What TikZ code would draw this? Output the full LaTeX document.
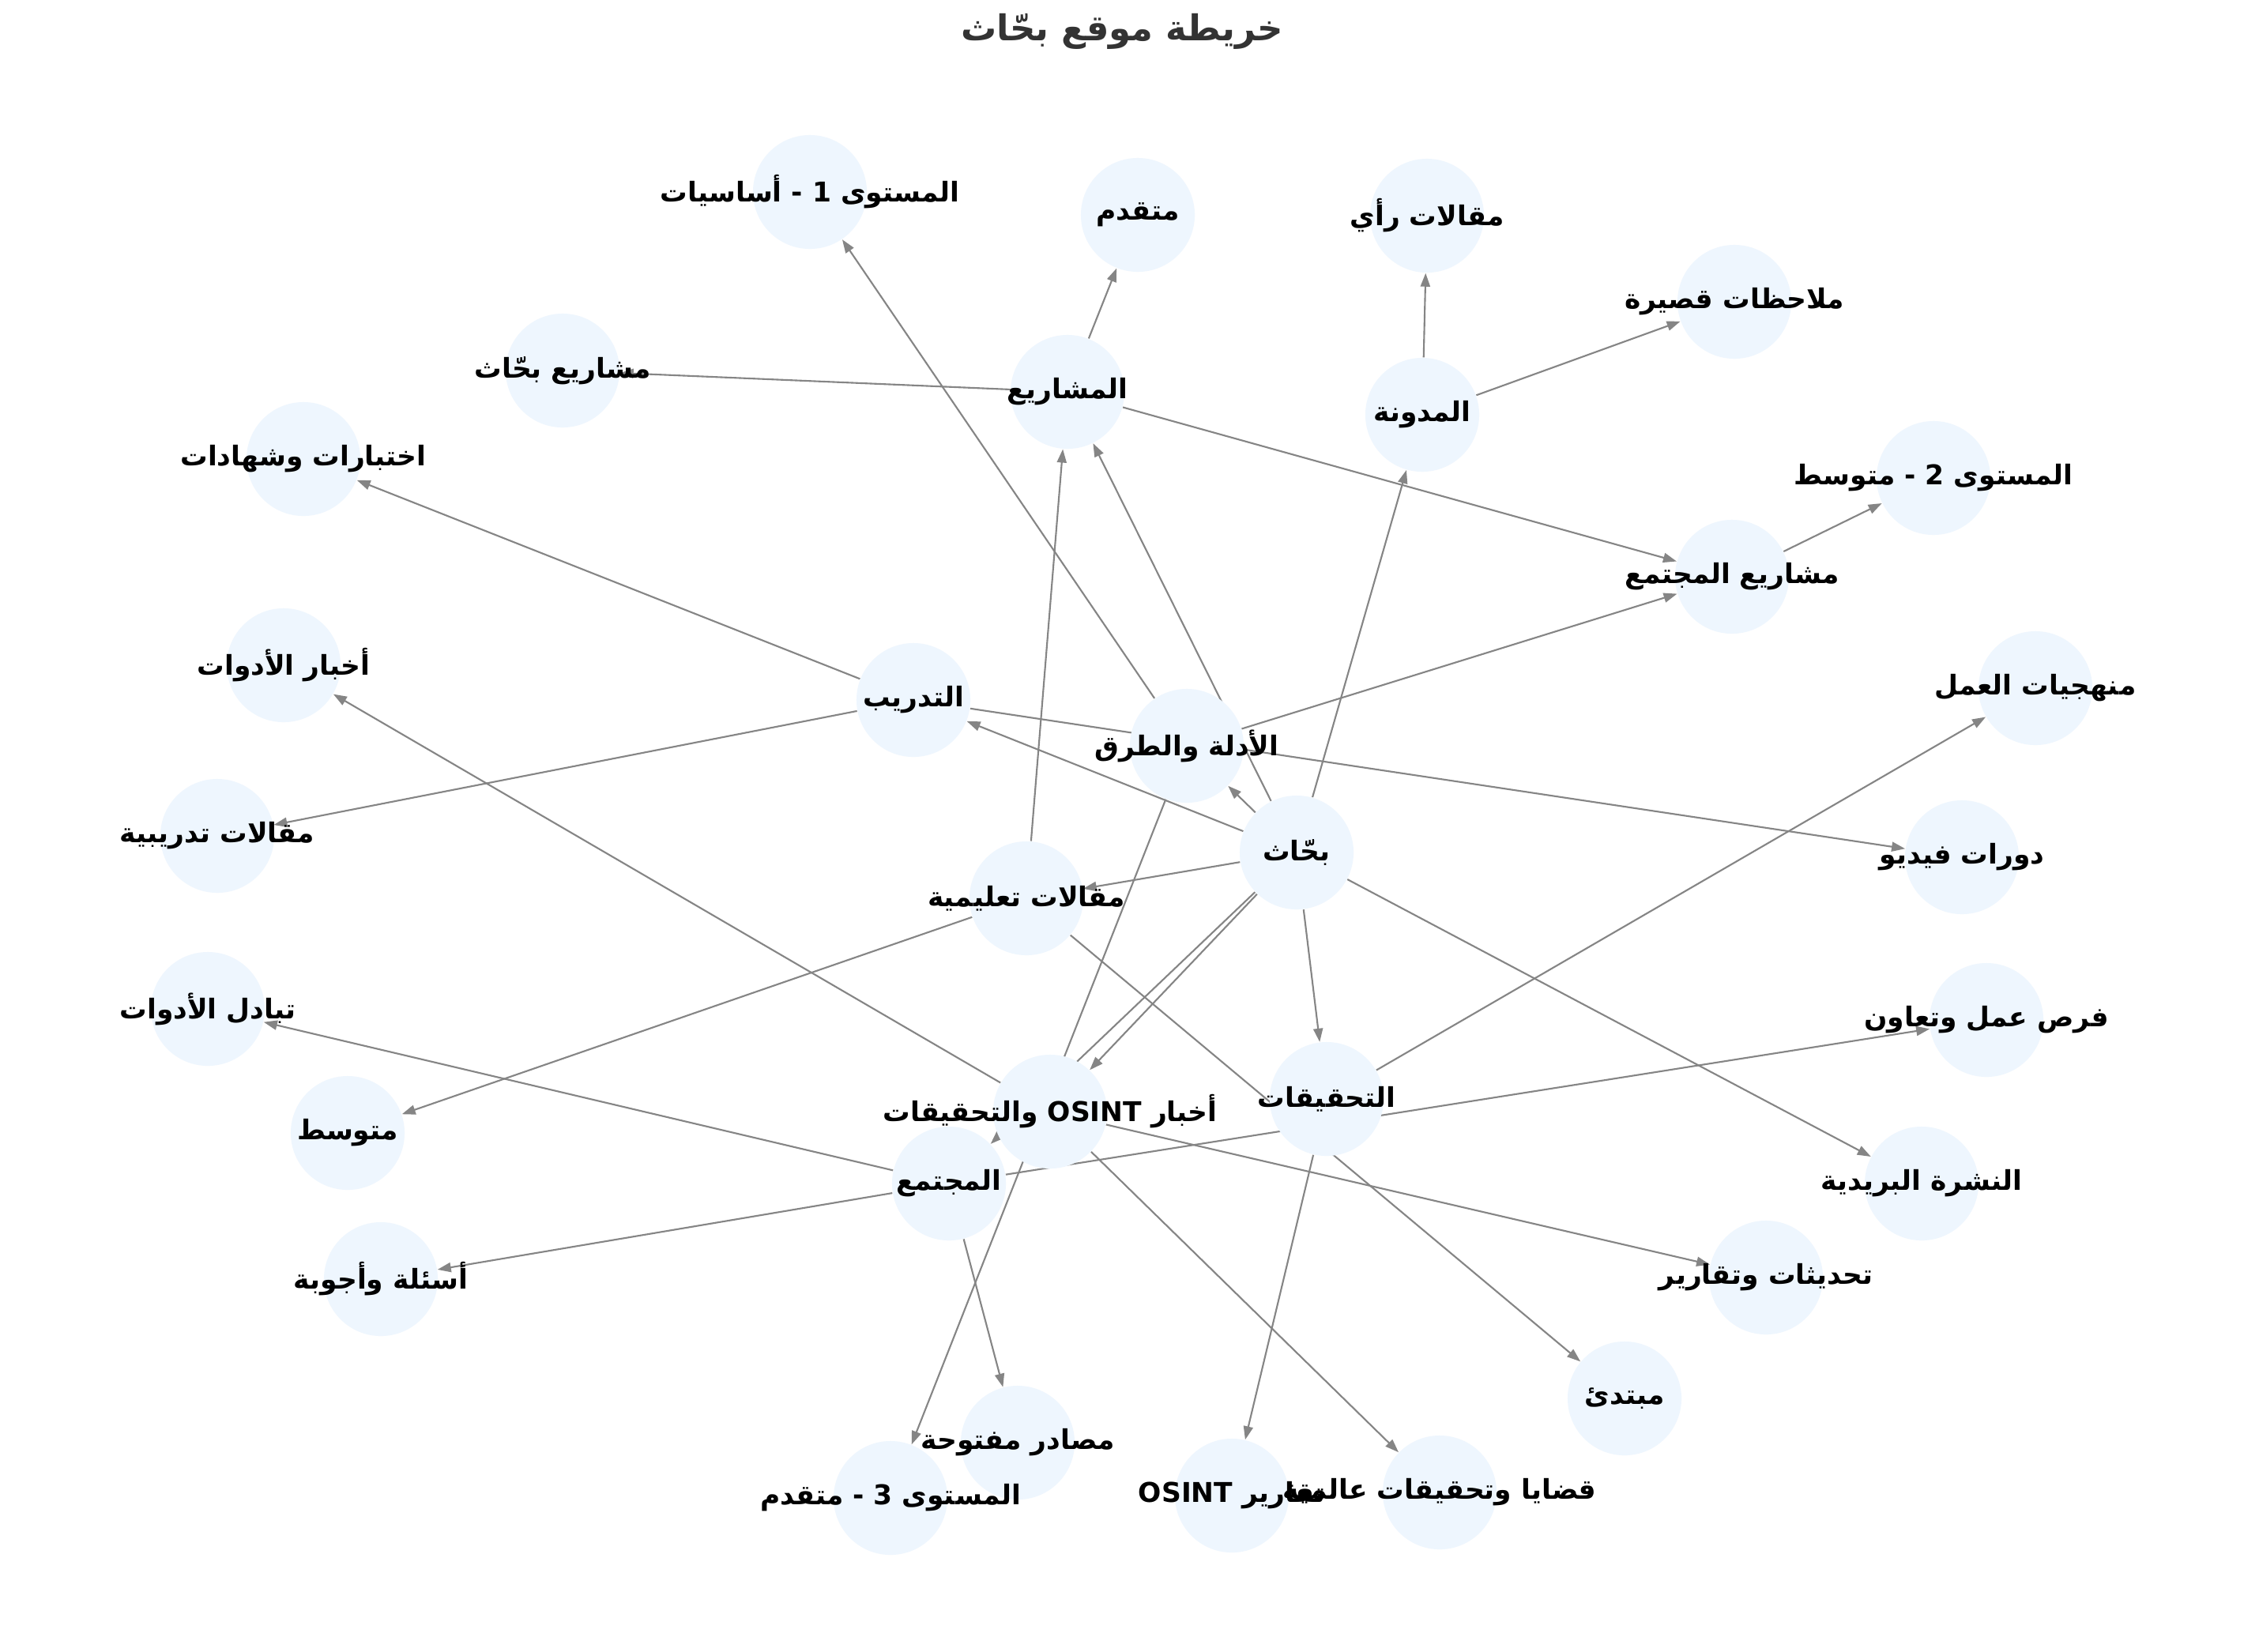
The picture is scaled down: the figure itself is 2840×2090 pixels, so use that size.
\documentclass[tikz,border=0pt]{standalone}
\usepackage{fontspec}
\newfontfamily\arabicfont[Script=Arabic]{DejaVu Sans}
\TeXXeTstate=1
\usetikzlibrary{arrows.meta}
\pgfdeclarelayer{bg}\pgfdeclarelayer{fg}
\pgfsetlayers{bg,main,fg}
\definecolor{nodefill}{HTML}{EEF6FE}
\definecolor{edgegray}{HTML}{858585}
\definecolor{titlegray}{HTML}{333333}
\newcommand{\artxt}[1]{\beginR #1\endR}
\begin{document}
\begin{tikzpicture}[x=0.01cm,y=-0.01cm,
  dot/.style={circle,fill=nodefill,minimum size=1.44cm,inner sep=0pt},
  lbl/.style={font=\arabicfont\bfseries\fontsize{9.8pt}{11pt}\selectfont,text=black,inner sep=0pt},
  ttl/.style={font=\arabicfont\bfseries\fontsize{12.8pt}{14pt}\selectfont,text=titlegray,inner sep=0pt},
  edge/.style={draw=edgegray,line width=0.6pt,-{Triangle[length=0.17cm,width=0.12cm]}}]
\begin{pgfonlayer}{bg}
\fill[white] (0,0) rectangle (2840,2090);
\end{pgfonlayer}
\useasboundingbox (0,0) rectangle (2840,2090);
% nodes
\node[dot] (root) at (1641,1079) {};
\node[dot] (guides) at (1502,944) {};
\node[dot] (train) at (1156,886) {};
\node[dot] (tut) at (1299,1137) {};
\node[dot] (proj) at (1351,496) {};
\node[dot] (blog) at (1800,525) {};
\node[dot] (cproj) at (2192,730) {};
\node[dot] (news) at (1329,1407) {};
\node[dot] (comm) at (1201,1498) {};
\node[dot] (inv) at (1679,1391) {};
\node[dot] (lv1) at (1025,243) {};
\node[dot] (adv) at (1440,272) {};
\node[dot] (opin) at (1806,273) {};
\node[dot] (notes) at (2195,382) {};
\node[dot] (bproj) at (712,469) {};
\node[dot] (exams) at (384,581) {};
\node[dot] (lv2) at (2447,605) {};
\node[dot] (toolnews) at (359,842) {};
\node[dot] (meth) at (2576,871) {};
\node[dot] (tarts) at (275,1058) {};
\node[dot] (video) at (2483,1085) {};
\node[dot] (toolx) at (263,1277) {};
\node[dot] (jobs) at (2514,1291) {};
\node[dot] (mid) at (440,1434) {};
\node[dot] (nl) at (2432,1498) {};
\node[dot] (qa) at (482,1619) {};
\node[dot] (upd) at (2235,1617) {};
\node[dot] (beg) at (2056,1770) {};
\node[dot] (osrc) at (1288,1826) {};
\node[dot] (lv3) at (1127,1896) {};
\node[dot] (rep) at (1559,1893) {};
\node[dot] (cases) at (1822,1889) {};
% edges
\begin{pgfonlayer}{bg}
\foreach \a/\b in {root/guides,root/train,root/tut,root/proj,root/blog,root/inv,root/nl,root/news,root/comm,
  guides/lv1,guides/cproj,guides/lv3,train/exams,train/tarts,train/video,
  tut/proj,tut/mid,tut/beg,proj/adv,proj/bproj,proj/cproj,blog/opin,blog/notes,cproj/lv2,
  news/toolnews,news/cases,news/upd,comm/toolx,comm/qa,comm/osrc,comm/jobs,inv/rep,inv/meth}
  \draw[edge] (\a) -- (\b);
\end{pgfonlayer}
% labels
\begin{pgfonlayer}{fg}
\node[ttl] (title) at (1420,40) {\artxt{خريطة موقع بحّاث}};
\node[lbl] (Lroot) at (root) {\artxt{بحّاث}};
\node[lbl] (Lguides) at (guides) {\artxt{الأدلة والطرق}};
\node[lbl] (Ltrain) at (train) {\artxt{التدريب}};
\node[lbl] (Ltut) at (tut) {\artxt{مقالات تعليمية}};
\node[lbl] (Lproj) at (proj) {\artxt{المشاريع}};
\node[lbl] (Lblog) at (blog) {\artxt{المدونة}};
\node[lbl] (Lcproj) at (cproj) {\artxt{مشاريع المجتمع}};
\node[lbl] (Lnews) at (news) {\artxt{أخبار OSINT والتحقيقات}};
\node[lbl] (Lcomm) at (comm) {\artxt{المجتمع}};
\node[lbl] (Linv) at (inv) {\artxt{التحقيقات}};
\node[lbl] (Llv1) at (lv1) {\artxt{المستوى 1 - أساسيات}};
\node[lbl] (Ladv) at (adv) {\artxt{متقدم}};
\node[lbl] (Lopin) at (opin) {\artxt{مقالات رأي}};
\node[lbl] (Lnotes) at (notes) {\artxt{ملاحظات قصيرة}};
\node[lbl] (Lbproj) at (bproj) {\artxt{مشاريع بحّاث}};
\node[lbl] (Lexams) at (exams) {\artxt{اختبارات وشهادات}};
\node[lbl] (Llv2) at (lv2) {\artxt{المستوى 2 - متوسط}};
\node[lbl] (Ltoolnews) at (toolnews) {\artxt{أخبار الأدوات}};
\node[lbl] (Lmeth) at (meth) {\artxt{منهجيات العمل}};
\node[lbl] (Ltarts) at (tarts) {\artxt{مقالات تدريبية}};
\node[lbl] (Lvideo) at (video) {\artxt{دورات فيديو}};
\node[lbl] (Ltoolx) at (toolx) {\artxt{تبادل الأدوات}};
\node[lbl] (Ljobs) at (jobs) {\artxt{فرص عمل وتعاون}};
\node[lbl] (Lmid) at (mid) {\artxt{متوسط}};
\node[lbl] (Lnl) at (nl) {\artxt{النشرة البريدية}};
\node[lbl] (Lqa) at (qa) {\artxt{أسئلة وأجوبة}};
\node[lbl] (Lupd) at (upd) {\artxt{تحديثات وتقارير}};
\node[lbl] (Lbeg) at (beg) {\artxt{مبتدئ}};
\node[lbl] (Losrc) at (osrc) {\artxt{مصادر مفتوحة}};
\node[lbl] (Llv3) at (lv3) {\artxt{المستوى 3 - متقدم}};
\node[lbl] (Lrep) at (rep) {\artxt{تقارير OSINT}};
\node[lbl] (Lcases) at (cases) {\artxt{قضايا وتحقيقات عالمية}};
\end{pgfonlayer}
\end{tikzpicture}
\end{document}
